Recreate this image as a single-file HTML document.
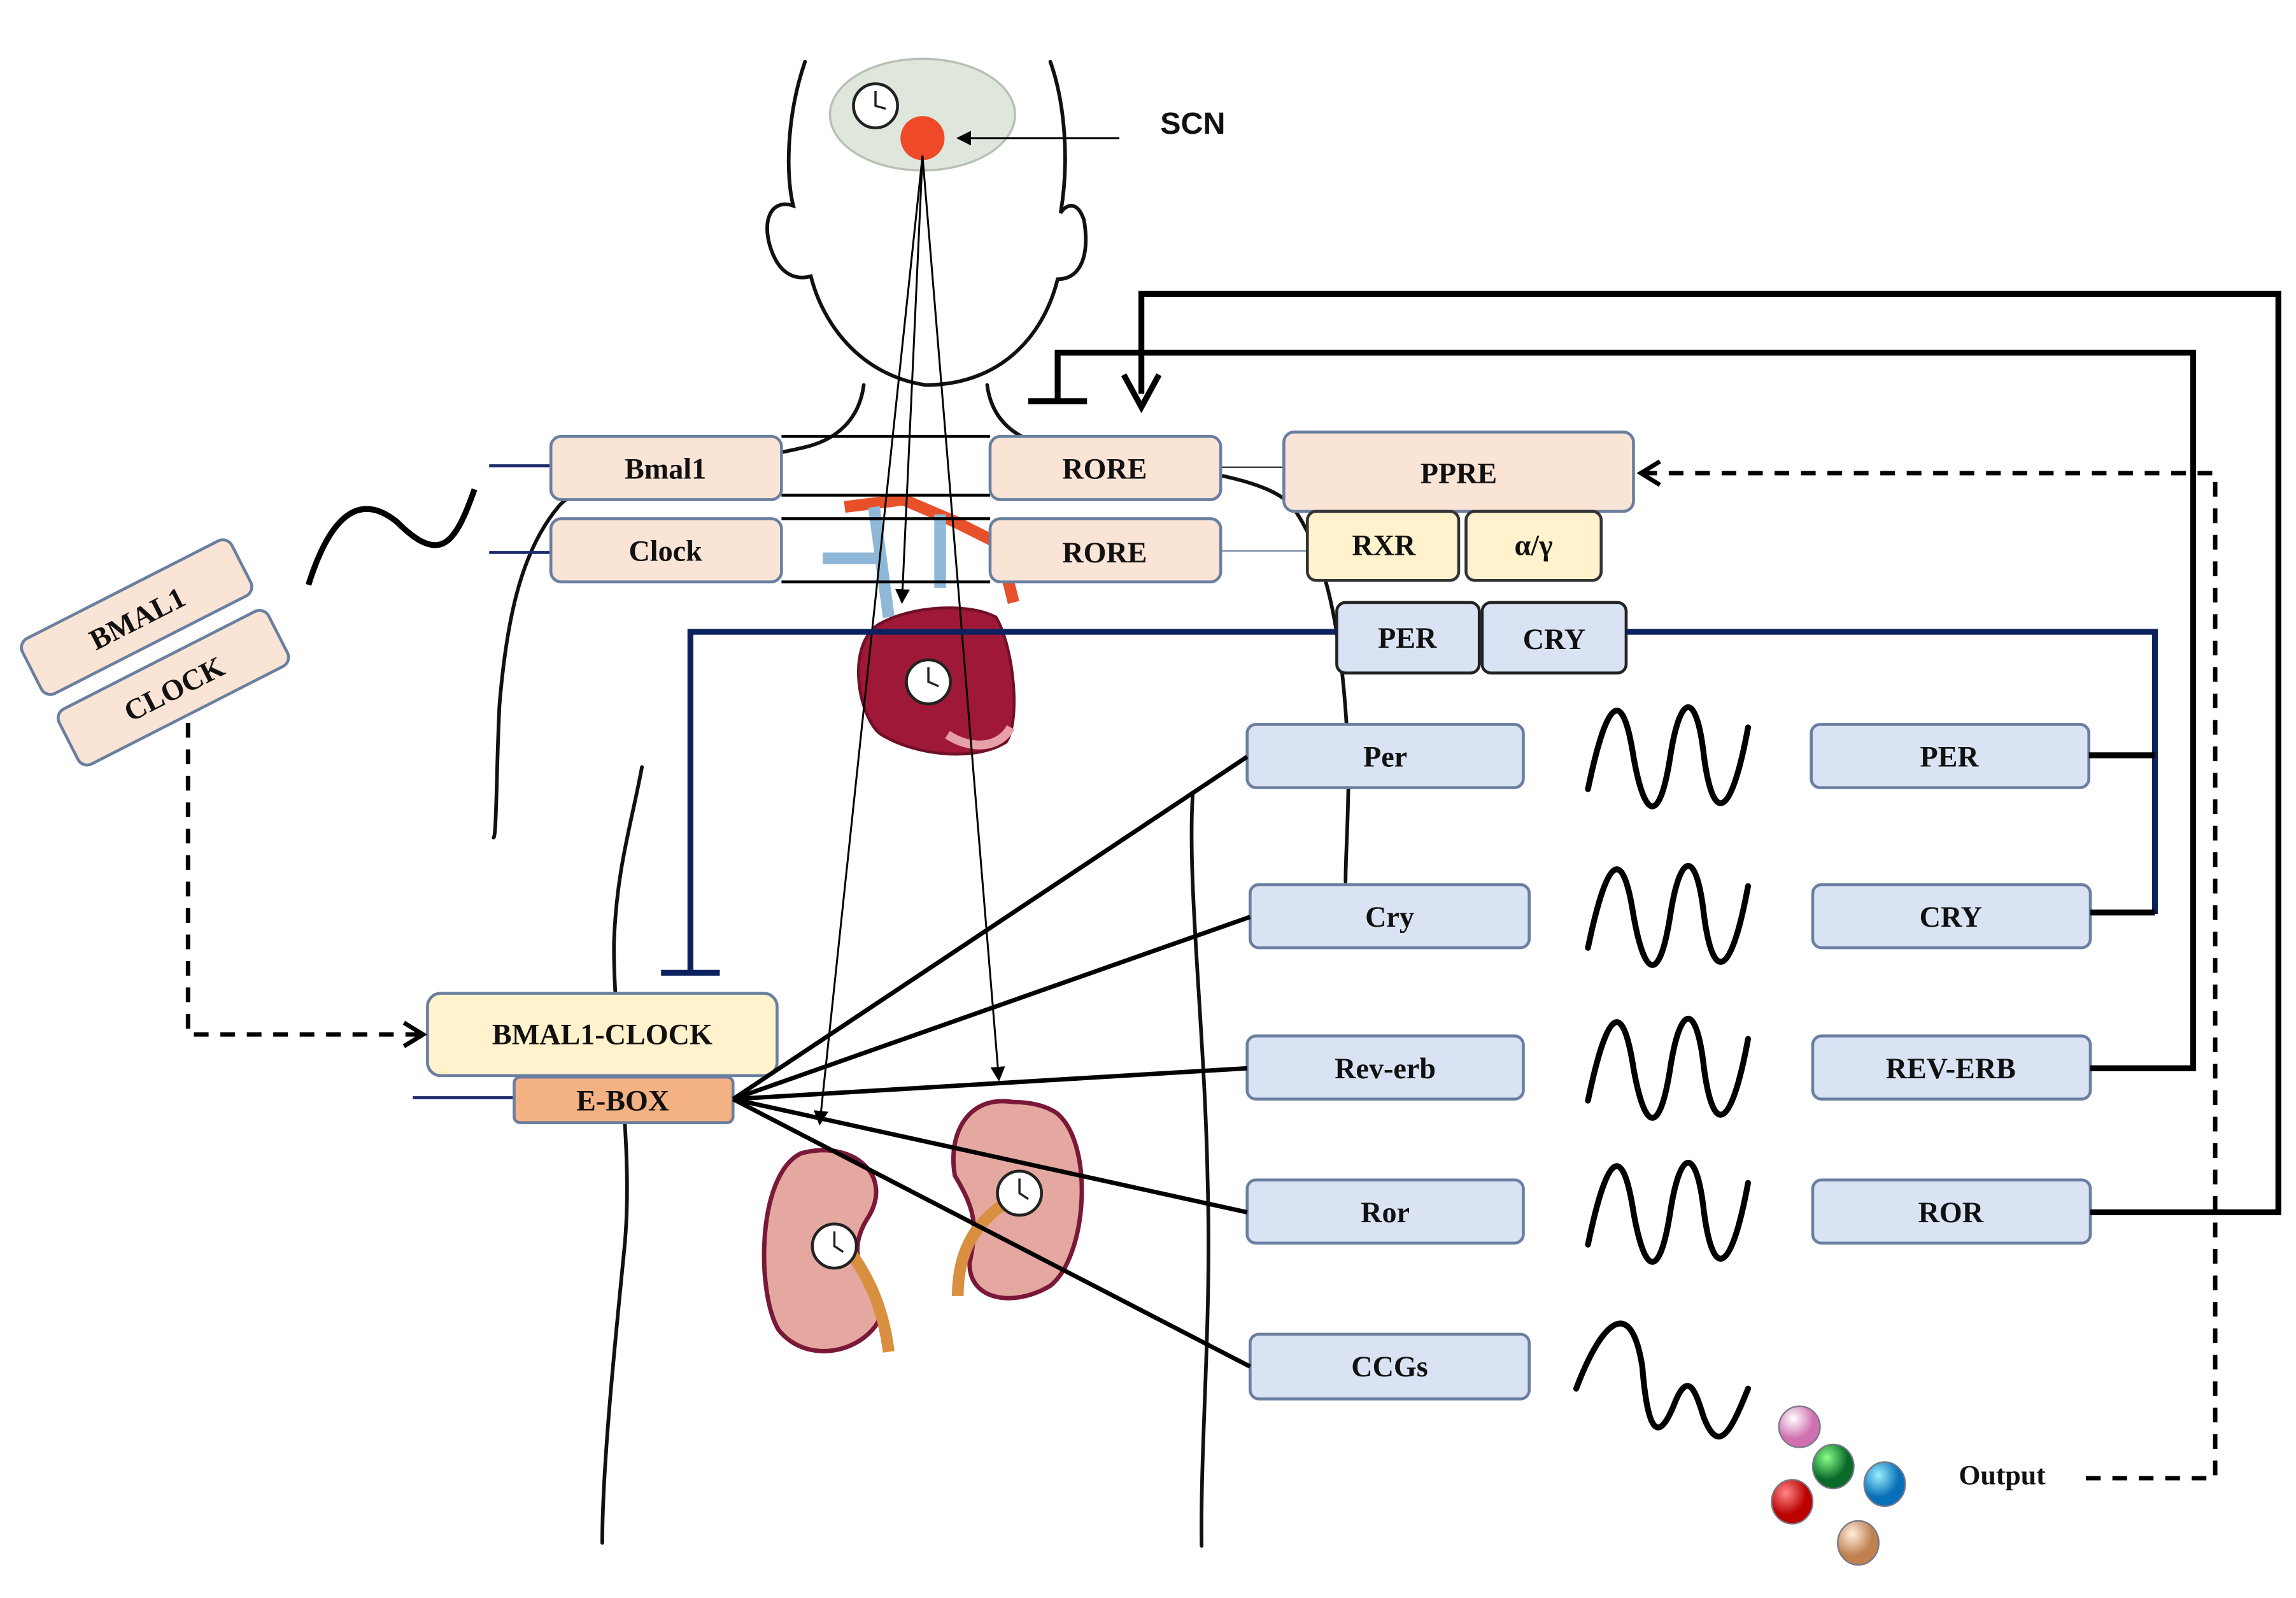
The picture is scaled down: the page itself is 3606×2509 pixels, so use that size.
<!DOCTYPE html>
<html><head><meta charset="utf-8"><style>
html,body{margin:0;padding:0;background:#fff;}
svg{display:block;}
text{font-family:"Liberation Serif",serif;font-weight:bold;font-size:20px;text-anchor:middle;dominant-baseline:central;fill:#111;}
</style></head><body>
<svg width="3606" height="2509" viewBox="0 0 1563 1087.5" preserveAspectRatio="none" xmlns="http://www.w3.org/2000/svg">
<defs>
<marker id="ah" markerWidth="10" markerHeight="10" refX="9" refY="5" orient="auto" markerUnits="userSpaceOnUse"><path d="M0,0 L10,5 L0,10 z" fill="#000"/></marker>
<marker id="ahs" markerWidth="12" markerHeight="12" refX="11" refY="6" orient="auto" markerUnits="userSpaceOnUse"><path d="M0,0 L12,6 L0,12 z" fill="#000"/></marker>
<radialGradient id="g1" cx="35%" cy="30%"><stop offset="0" stop-color="#fff"/><stop offset="1" stop-color="#d070b0"/></radialGradient>
<radialGradient id="g2" cx="35%" cy="30%"><stop offset="0" stop-color="#8f8"/><stop offset="1" stop-color="#0a6a2a"/></radialGradient>
<radialGradient id="g3" cx="35%" cy="30%"><stop offset="0" stop-color="#9ef"/><stop offset="1" stop-color="#0870b8"/></radialGradient>
<radialGradient id="g4" cx="35%" cy="30%"><stop offset="0" stop-color="#f88"/><stop offset="1" stop-color="#b00"/></radialGradient>
<radialGradient id="g5" cx="35%" cy="30%"><stop offset="0" stop-color="#fed"/><stop offset="1" stop-color="#c08050"/></radialGradient>
</defs>

<!-- body outline -->
<g fill="none" stroke="#111" stroke-width="2.5" stroke-linecap="round">
<path d="M548,42 C535,80 535,120 540,140 C525,135 518,150 525,170 C532,190 545,190 552,188 C560,220 585,255 630,262 C680,262 710,230 720,190 C735,190 742,175 738,150 C733,135 725,140 722,145 C728,110 725,70 715,42"/>
<path d="M588,262 C585,285 570,300 545,305 C490,318 400,320 380,345 C355,375 345,420 340,480 C338,520 338,570 336,570"/>
<path d="M672,262 C675,285 690,300 720,305 C780,318 860,320 880,345 C905,380 915,440 918,520 C918,560 916,580 916,600"/>
<path d="M437,522 C430,560 420,590 418,640 C417,700 432,780 425,850 C418,920 410,1000 410,1050"/>
<path d="M812,540 C808,600 820,700 822,800 C825,900 817,980 818,1052"/>
</g>

<!-- brain -->
<ellipse cx="628" cy="78" rx="63" ry="38" fill="#dfe7dd" stroke="#b8c0b5" stroke-width="1.5"/>
<circle cx="596" cy="72" r="15" fill="#fff" stroke="#222" stroke-width="2"/>
<path d="M596,62 L596,72 L603,74" stroke="#222" stroke-width="1.5" fill="none"/>
<circle cx="628" cy="94" r="15" fill="#f0492a"/>
<line x1="762" y1="94" x2="652" y2="94" stroke="#000" stroke-width="1.3" marker-end="url(#ah)"/>
<text x="812" y="84" style="font-family:'Liberation Sans',sans-serif;font-size:21px">SCN</text>

<!-- heart -->
<path d="M575,345 L615,340 L650,355 L680,370 L690,410" stroke="#e8502a" stroke-width="8" fill="none"/>
<path d="M595,345 L605,420 M640,350 L640,400 M560,380 L600,380" stroke="#8fb8d8" stroke-width="8" fill="none"/>
<path d="M598,425 C575,440 585,490 600,500 C625,515 665,518 685,505 C695,490 690,440 678,420 C660,410 620,412 598,425 z" fill="#a01838" stroke="#701028" stroke-width="2"/>
<path d="M645,500 C660,510 680,510 688,495" stroke="#e8a0a8" stroke-width="6" fill="none"/>
<circle cx="632" cy="464" r="15" fill="#fff" stroke="#222" stroke-width="2"/>
<path d="M632,454 L632,464 L639,467" stroke="#222" stroke-width="1.5" fill="none"/>

<!-- kidneys -->
<path d="M545,785 C515,800 515,880 530,905 C550,930 590,920 600,895 C590,870 575,855 590,830 C610,800 580,775 545,785 z" fill="#e4a8a0" stroke="#7a1838" stroke-width="3"/>
<path d="M570,840 C585,860 600,880 605,920" stroke="#d89040" stroke-width="8" fill="none"/>
<circle cx="568" cy="848" r="15" fill="#fff" stroke="#222" stroke-width="2"/>
<path d="M568,838 L568,848 L574,852" stroke="#222" stroke-width="1.5" fill="none"/>
<path d="M690,750 C660,745 645,770 650,800 C665,825 665,835 660,860 C660,885 690,890 715,875 C740,855 745,780 720,758 C712,752 700,750 690,750 z" fill="#e4a8a0" stroke="#7a1838" stroke-width="3"/>
<path d="M690,815 C665,830 652,850 652,882" stroke="#d89040" stroke-width="8" fill="none"/>
<circle cx="694" cy="812" r="15" fill="#fff" stroke="#222" stroke-width="2"/>
<path d="M694,802 L694,812 L700,816" stroke="#222" stroke-width="1.5" fill="none"/>

<!-- SCN thin arrows -->
<g stroke="#000" stroke-width="1.3" fill="none">
<line x1="628" y1="106" x2="614" y2="410" marker-end="url(#ah)"/>
<line x1="628" y1="106" x2="558" y2="765" marker-end="url(#ah)"/>
<line x1="628" y1="106" x2="680" y2="735" marker-end="url(#ah)"/>
</g>

<!-- RORE lines -->
<g stroke="#000" stroke-width="2">
<line x1="532" y1="297" x2="674" y2="297"/><line x1="532" y1="337" x2="674" y2="337"/>
<line x1="532" y1="353" x2="674" y2="353"/><line x1="532" y1="396" x2="674" y2="396"/>
</g>
<line x1="831" y1="318" x2="874" y2="318" stroke="#333" stroke-width="1"/>
<line x1="831" y1="375" x2="890" y2="375" stroke="#8090a8" stroke-width="1"/>
<g stroke="#1a2a6a" stroke-width="2"><line x1="333" y1="317" x2="375" y2="317"/><line x1="333" y1="376" x2="375" y2="376"/><line x1="281" y1="747" x2="350" y2="747"/></g>

<!-- boxes -->
<g stroke="#6a7fa0" stroke-width="2">
<rect x="375" y="297" width="157" height="43" rx="7" fill="#f9e4d6"/>
<rect x="674" y="297" width="157" height="43" rx="7" fill="#f9e4d6"/>
<rect x="375" y="353" width="157" height="43" rx="7" fill="#f9e4d6"/>
<rect x="674" y="353" width="157" height="43" rx="7" fill="#f9e4d6"/>
<rect x="874" y="294" width="238" height="54" rx="7" fill="#f9e4d6"/>
<rect x="890" y="348" width="103" height="47" rx="6" fill="#fff2cc" stroke="#333"/>
<rect x="998" y="348" width="92" height="47" rx="6" fill="#fff2cc" stroke="#333"/>
<rect x="910" y="410" width="97" height="48" rx="6" fill="#dae3f3" stroke="#222"/>
<rect x="1009" y="410" width="98" height="48" rx="6" fill="#dae3f3" stroke="#222"/>
<rect x="849" y="493" width="188" height="43" rx="6" fill="#dae3f3"/>
<rect x="851" y="602" width="190" height="43" rx="6" fill="#dae3f3"/>
<rect x="849" y="705" width="188" height="43" rx="6" fill="#dae3f3"/>
<rect x="849" y="803" width="188" height="43" rx="6" fill="#dae3f3"/>
<rect x="851" y="908" width="190" height="44" rx="6" fill="#dae3f3"/>
<rect x="1233" y="493" width="189" height="43" rx="6" fill="#dae3f3"/>
<rect x="1234" y="602" width="189" height="43" rx="6" fill="#dae3f3"/>
<rect x="1234" y="705" width="189" height="43" rx="6" fill="#dae3f3"/>
<rect x="1234" y="803" width="189" height="43" rx="6" fill="#dae3f3"/>
<rect x="291" y="676" width="238" height="56" rx="9" fill="#fff2cc"/>
<rect x="350" y="733" width="149" height="31" rx="4" fill="#f4b183"/>
</g>
<text x="453" y="319">Bmal1</text><text x="752" y="319">RORE</text>
<text x="453" y="375">Clock</text><text x="752" y="376">RORE</text>
<text x="993" y="322">PPRE</text><text x="942" y="371">RXR</text><text x="1044" y="371">α/γ</text>
<text x="958" y="434">PER</text><text x="1058" y="435">CRY</text>
<text x="943" y="515">Per</text><text x="946" y="624">Cry</text><text x="943" y="727">Rev-erb</text>
<text x="943" y="825">Ror</text><text x="946" y="930">CCGs</text>
<text x="1327" y="515">PER</text><text x="1328" y="624">CRY</text><text x="1328" y="727">REV-ERB</text><text x="1328" y="825">ROR</text>
<text x="410" y="704">BMAL1-CLOCK</text><text x="424" y="749">E-BOX</text>

<!-- rotated left boxes -->
<g transform="translate(93,420) rotate(-27)">
<rect x="-80" y="-21" width="160" height="42" rx="7" fill="#f9e4d6" stroke="#6a7fa0" stroke-width="2"/><text x="0" y="1">BMAL1</text></g>
<g transform="translate(118,468) rotate(-27)">
<rect x="-80" y="-21" width="160" height="42" rx="7" fill="#f9e4d6" stroke="#6a7fa0" stroke-width="2"/><text x="0" y="1">CLOCK</text></g>
<path d="M210,398 C225,350 245,335 270,355 C300,385 310,370 323,333" stroke="#000" stroke-width="4" fill="none"/>
<path d="M128,492 L128,704 L285,704" stroke="#000" stroke-width="3" stroke-dasharray="10,8" fill="none"/>
<path d="M275,696 L288,704 L275,712" stroke="#000" stroke-width="3" fill="none"/>

<!-- navy inhibition -->
<g stroke="#0c2260" stroke-width="4" fill="none">
<path d="M910,430 L470,430 L470,662"/><line x1="450" y1="662" x2="490" y2="662"/>
<path d="M1107,430 L1467,430 L1467,622"/>
</g>
<g stroke="#000" stroke-width="4"><line x1="1422" y1="514" x2="1467" y2="514"/><line x1="1423" y1="621" x2="1467" y2="621"/></g>

<!-- E-box fan -->
<g stroke="#000" stroke-width="3">
<line x1="499" y1="748" x2="849" y2="515"/><line x1="499" y1="748" x2="851" y2="624"/>
<line x1="499" y1="748" x2="849" y2="727"/><line x1="499" y1="748" x2="849" y2="825"/>
<line x1="499" y1="748" x2="851" y2="930"/>
</g>

<!-- waves -->
<g stroke="#000" stroke-width="4" fill="none" stroke-linecap="round">
<path id="w" d="M1081,537 C1095,470 1105,470 1112,515 C1120,560 1130,560 1137,515 C1144,470 1155,470 1160,515 C1166,560 1178,560 1190,495"/>
<use href="#w" y="108"/><use href="#w" y="212"/><use href="#w" y="310"/>
<path d="M1073,945 C1090,900 1110,880 1118,930 C1122,980 1130,980 1140,955 C1150,930 1155,950 1160,965 C1170,990 1178,975 1190,945"/>
</g>

<!-- feedback thick -->
<g stroke="#000" stroke-width="4" fill="none">
<path d="M1423,727 L1493,727 L1493,240 L720,240 L720,273"/><line x1="700" y1="273" x2="740" y2="273"/>
<path d="M1423,825 L1551,825 L1551,200 L777,200 L777,268"/>
</g>
<path d="M765,255 L777,277 L789,255" stroke="#000" stroke-width="4" fill="none"/>
<path d="M1420,1006 L1508,1006 L1508,322 L1118,322" stroke="#000" stroke-width="3" stroke-dasharray="10,8" fill="none"/>
<path d="M1130,314 L1117,322 L1130,330" stroke="#000" stroke-width="3" fill="none"/>
<text x="1363" y="1004" style="font-size:19px">Output</text>

<!-- balls -->
<ellipse cx="1225" cy="971" rx="14" ry="14" fill="url(#g1)" stroke="#778" stroke-width="1"/>
<ellipse cx="1248" cy="998" rx="14" ry="15" fill="url(#g2)" stroke="#778" stroke-width="1"/>
<ellipse cx="1283" cy="1010" rx="14" ry="15" fill="url(#g3)" stroke="#778" stroke-width="1"/>
<ellipse cx="1220" cy="1022" rx="14" ry="15" fill="url(#g4)" stroke="#778" stroke-width="1"/>
<ellipse cx="1265" cy="1050" rx="14" ry="15" fill="url(#g5)" stroke="#778" stroke-width="1"/>
</svg>
</body></html>
